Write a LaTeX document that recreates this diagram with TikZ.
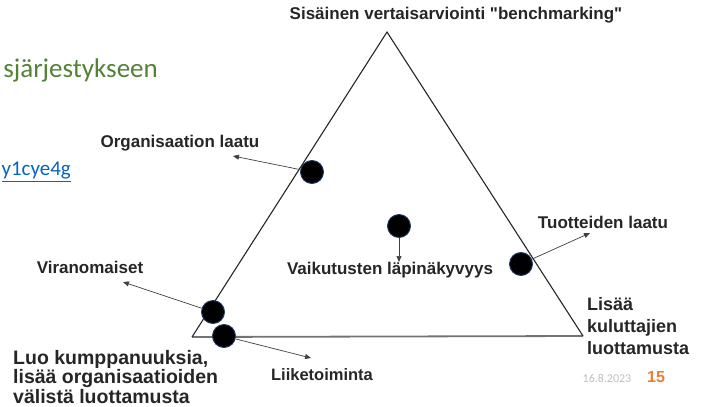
\documentclass[tikz,border=0pt]{standalone}
\usepackage{fontspec}
\setmainfont{Liberation Sans}[Ligatures=TeXOff]
\newfontfamily\calfont{Carlito}
\usetikzlibrary{arrows.meta}
\definecolor{slidegreen}{HTML}{548235}
\definecolor{linkblue}{HTML}{0563C1}
\definecolor{dotrim}{HTML}{1F3864}
\definecolor{arrowgray}{HTML}{404040}
\definecolor{pageorange}{HTML}{ED7D31}
\tikzset{
  lbl/.style={font=\bfseries\fontsize{17}{21}\selectfont, text=black!85, inner sep=0pt},
  dot/.style={circle, fill=black, draw=dotrim, line width=0.9pt, minimum size=23pt, inner sep=0pt},
  ptr/.style={draw=arrowgray, line width=0.7pt, -{Triangle[length=6pt,width=5pt]}},
  side/.style={draw=black!85, line width=1.1pt},
  basel/.style={draw=black!55, line width=1.8pt}
}
\begin{document}
\begin{tikzpicture}[x=1pt,y=-1pt]
\useasboundingbox (0,0) rectangle (702,407);
% slide fragments
\node[anchor=east, inner sep=0pt, text=slidegreen, font=\calfont\fontsize{27}{30}\selectfont] (frag1) at (158,70) {sjärjestykseen};
\node[anchor=east, inner sep=0pt, text=linkblue, font=\calfont\fontsize{21}{24}\selectfont] (frag2) at (71,172) {\underline{y1cye4g}};
% triangle
\coordinate (apex) at (387,32);
\coordinate (bl) at (192,337);
\coordinate (br) at (583,336);
\draw[basel] (bl) -- (br);
\draw[side] (bl) -- (apex) -- (br);
% labels
\node[lbl] (title) at (456,15) {Sisäinen vertaisarviointi "benchmarking"};
\node[lbl] (org) at (180,143) {Organisaation laatu};
\node[lbl] (vaik) at (390,270) {Vaikutusten läpinäkyvyys};
\node[lbl] (tuot) at (603,222) {Tuotteiden laatu};
\node[lbl] (vir) at (90,267) {Viranomaiset};
\node[lbl, font=\bfseries\fontsize{16.5}{20}\selectfont] (liik) at (322,375) {Liiketoiminta};
\node[lbl, anchor=west, align=left, font=\bfseries\fontsize{18}{22}\selectfont] (lisaa) at (587,326) {Lisää\\kuluttajien\\luottamusta};
\node[lbl, anchor=west, align=left, font=\bfseries\fontsize{19.5}{19.5}\selectfont] (luo) at (13,377) {Luo kumppanuuksia,\\lisää organisaatioiden\\välistä luottamusta};
\node[inner sep=0pt, text=black!25, font=\calfont\fontsize{12}{14}\selectfont] (date) at (607,378) {16.8.2023};
\node[inner sep=0pt, text=pageorange, font=\bfseries\fontsize{16}{18}\selectfont] (page) at (656,377) {15};
% dots
\node[dot] (dorg) at (312,172) {};
\node[dot] (dvaik) at (399,226) {};
\node[dot] (dtuot) at (521,264) {};
\node[dot] (dvir) at (213,312) {};
\node[dot] (dliik) at (224,336) {};
% arrow ends
\coordinate (eorg) at (233,156);
\coordinate (evaik) at (399,262);
\coordinate (etuot) at (590,233);
\coordinate (evir) at (123,282);
\coordinate (eliik) at (311,358);
\draw[ptr] (dorg) -- (eorg);
\draw[ptr] (dvaik) -- (evaik);
\draw[ptr] (dtuot.center) ++(9,-4) -- (etuot);
\draw[ptr] (dvir) -- (evir);
\draw[ptr] (dliik) -- (eliik);
\end{tikzpicture}
\end{document}
